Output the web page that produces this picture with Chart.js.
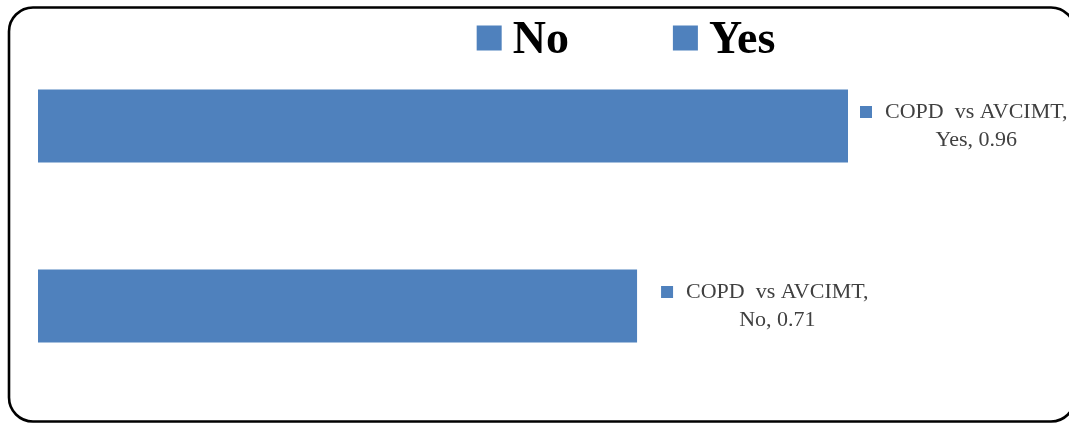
<!DOCTYPE html>
<html>
<head>
<meta charset="utf-8">
<title>COPD vs AVCIMT</title>
<script src="https://cdn.jsdelivr.net/npm/chart.js@4/dist/chart.umd.min.js"></script>
<style>
  html, body { margin: 0; padding: 0; background: #ffffff; }
  #wrap { width: 1069px; height: 423px; position: relative; overflow: hidden; }
</style>
</head>
<body>
<div id="wrap"><canvas id="chart" width="1069" height="423"></canvas></div>
<script>
// Categories listed bottom-to-top (the y axis is reversed below)
const categories = ['No', 'Yes'];
const seriesName = 'COPD  vs AVCIMT';
const values = [0.71, 0.96];

const barColor = '#4F81BD';

// Rounded frame around the whole chart
const framePlugin = {
  id: 'frame',
  beforeDraw(chart) {
    const ctx = chart.ctx;
    ctx.save();
    ctx.fillStyle = '#ffffff';
    ctx.fillRect(0, 0, chart.width, chart.height);
    ctx.beginPath();
    ctx.roundRect(9, 7.5, 1066, 414, 24);
    ctx.lineWidth = 2.6;
    ctx.strokeStyle = '#000000';
    ctx.stroke();
    ctx.restore();
  }
};

// Legend listing each category with a square swatch
const legendPlugin = {
  id: 'catLegend',
  afterDraw(chart, args, opts) {
    const ctx = chart.ctx;
    ctx.save();
    ctx.font = 'bold 46px "Liberation Serif", "Times New Roman", serif';
    ctx.textBaseline = 'alphabetic';
    const labels = chart.data.labels;
    const widths = labels.map(l => ctx.measureText(l).width);
    const box = 25, gap = 11, itemGap = 104;
    let total = 0;
    widths.forEach((w, i) => { total += box + gap + w + (i < widths.length - 1 ? itemGap : 0); });
    let x = opts.centerX - total / 2;
    labels.forEach((l, i) => {
      ctx.fillStyle = barColor;
      ctx.fillRect(x, 25.5, box, box);
      ctx.fillStyle = '#000000';
      ctx.fillText(l, x + box + gap, 53);
      x += box + gap + widths[i] + itemGap;
    });
    ctx.restore();
  }
};

// Data labels: swatch + "series, category, value" in two lines
const labelPlugin = {
  id: 'barLabels',
  afterDatasetsDraw(chart, args, opts) {
    const ctx = chart.ctx;
    const meta = chart.getDatasetMeta(0);
    ctx.save();
    ctx.font = '22px "Liberation Serif", "Times New Roman", serif';
    ctx.textBaseline = 'middle';
    meta.data.forEach((bar, i) => {
      const cat = chart.data.labels[i];
      const val = chart.data.datasets[0].data[i];
      const line1 = seriesName + ',';
      const line2 = cat + ', ' + val.toFixed(2);
      const mx = bar.x + opts.offsets[i];
      const y1 = bar.y - 14, y2 = bar.y + 14;
      ctx.fillStyle = barColor;
      ctx.fillRect(mx, y1 - 6, 12, 12);
      ctx.fillStyle = '#404040';
      const tx = mx + 25;
      const w1 = ctx.measureText(line1).width;
      ctx.textAlign = 'left';
      ctx.fillText(line1, tx, y1);
      ctx.textAlign = 'center';
      ctx.fillText(line2, tx + w1 / 2, y2);
    });
    ctx.restore();
  }
};

new Chart(document.getElementById('chart'), {
  type: 'bar',
  data: {
    labels: categories,
    datasets: [{
      label: seriesName,
      data: values,
      backgroundColor: barColor,
      borderWidth: 0,
      categoryPercentage: 1,
      barPercentage: 0.405
    }]
  },
  plugins: [framePlugin, legendPlugin, labelPlugin],
  options: {
    indexAxis: 'y',
    responsive: false,
    devicePixelRatio: 1,
    animation: false,
    layout: { padding: { left: 38, top: 36, bottom: 27, right: 18.5 } },
    scales: {
      x: { display: false, min: 0, max: 1.2 },
      y: { display: false, reverse: true }
    },
    plugins: {
      legend: { display: false },
      tooltip: { enabled: false },
      catLegend: { centerX: 626 },
      barLabels: { offsets: [24, 12] }
    }
  }
});
</script>
</body>
</html>
